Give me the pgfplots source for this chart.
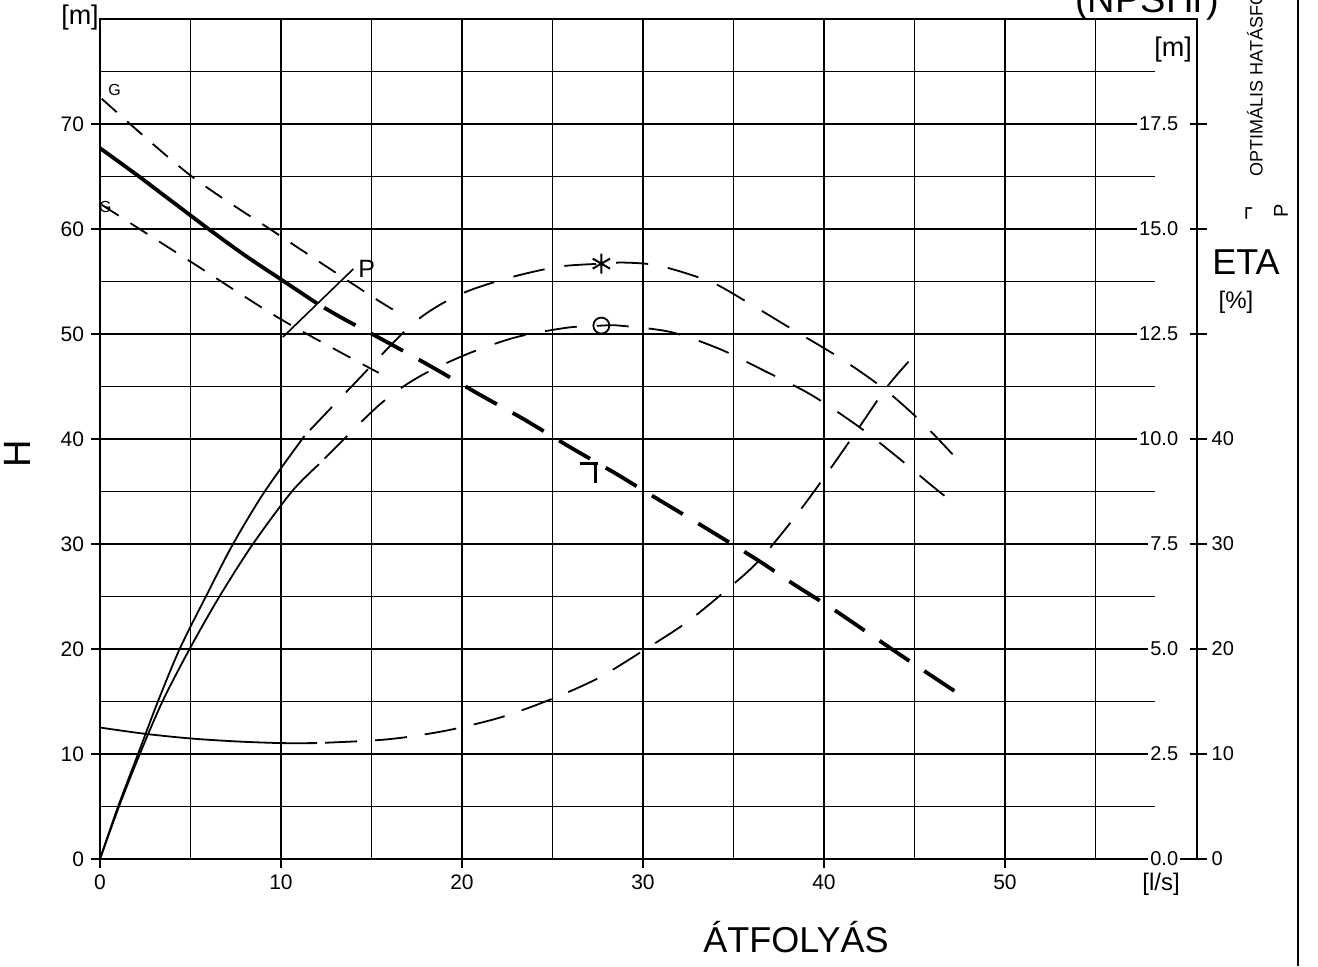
\documentclass[border=0pt]{standalone}
\usepackage{fontspec}
\setmainfont{Liberation Sans}
\usepackage{pgfplots}
\pgfplotsset{compat=1.18}

% corner mark on the H curve
\pgfdeclareplotmark{corner}{%
  \pgfpathmoveto{\pgfqpoint{-9pt}{0pt}}%
  \pgfpathlineto{\pgfqpoint{0pt}{0pt}}%
  \pgfpathmoveto{\pgfqpoint{-1.2pt}{0pt}}%
  \pgfpathlineto{\pgfqpoint{-1.2pt}{-10pt}}%
  \pgfusepathqstroke}

\newcommand{\fs}[1]{\fontsize{#1}{#1}\selectfont}

\begin{document}
\begin{tikzpicture}[
  gridl/.style={line width=0.95pt},
  rlab/.style={anchor=east, fill=white, inner sep=1pt, font=\fs{10}},
  elab/.style={anchor=west, inner sep=0pt, font=\fs{10}},
]
\begin{axis}[
  at={(50pt,53.5pt)}, anchor=south west,
  width=548.4pt, height=420pt, scale only axis,
  xmin=0, xmax=60.6, ymin=0, ymax=80,
  xtick={0,10,...,50}, ytick={0,10,...,70},
  tick pos=left, tick align=outside,
  major tick length=4.5pt,
  every tick/.style={black, line width=0.95pt},
  axis line style={line width=1.2pt},
  ticklabel style={font=\fs{10.5}},
  /pgf/number format/assume math mode=true,
  clip=false,
]
% grid
\pgfplotsinvokeforeach{5,10,...,55}{\draw[gridl] (axis cs:#1,0) -- (axis cs:#1,80);}
\pgfplotsinvokeforeach{5,10,...,75}{\draw[gridl] (axis cs:0,#1) -- (axis cs:58.3,#1);}

% right-hand scales: NPSH [m] and ETA [%]
\pgfplotsinvokeforeach{0,10,...,70}{\draw[line width=0.95pt] (axis cs:60.2,#1) -- (axis cs:61.15,#1);}
\node[rlab] at (axis cs:59.7,0) {0.0};
\node[rlab] at (axis cs:59.7,10) {2.5};
\node[rlab] at (axis cs:59.7,20) {5.0};
\node[rlab] at (axis cs:59.7,30) {7.5};
\node[rlab] at (axis cs:59.7,40) {10.0};
\node[rlab] at (axis cs:59.7,50) {12.5};
\node[rlab] at (axis cs:59.7,60) {15.0};
\node[rlab] at (axis cs:59.7,70) {17.5};
\node[elab] at (axis cs:61.4,0) {0};
\node[elab] at (axis cs:61.4,10) {10};
\node[elab] at (axis cs:61.4,20) {20};
\node[elab] at (axis cs:61.4,30) {30};
\node[elab] at (axis cs:61.4,40) {40};

% G limits
\addplot[line width=0.9pt, smooth, dash pattern=on 10pt off 7pt]
  coordinates {(0.1,72.4)(5,65.1)(10,59.3)(15,53.6)(16.8,51.7)};
\addplot[line width=0.9pt, smooth, dash pattern=on 10pt off 7pt]
  coordinates {(0.1,62.3)(5,56.9)(10,51.4)(15.4,46.3)};
\addplot[line width=0.8pt] coordinates {(10.1,49.7)(14,56.2)};

% H curve
\addplot[line width=1.9pt, smooth]
  coordinates {(0,67.7)(2,65.2)(4,62.6)(6,60)(8,57.5)(10,55.2)(12,52.9)};
\addplot[line width=1.9pt, smooth, dash pattern=on 18pt off 9pt, dash phase=23pt]
  coordinates {(12,52.9)(13.4,51.5)(16,49.1)(18.4,46.8)(20.9,44.3)(23.4,41.9)
    (25.8,39.4)(27.5,37.7)(28.7,36.5)(30.6,34.5)(33.3,31.7)(36.4,28.4)(38.3,26.2)
    (40.5,23.8)(42.8,21.1)(45.2,18.3)(47.3,15.9)};
\addplot[only marks, mark=corner, line width=1.5pt] coordinates {(27.5,37.7)};

% ETA, upper
\addplot[line width=0.9pt, smooth]
  coordinates {(0,0)(1,5)(2.1,10)(3.2,15)(4.4,20)(5.85,25)(7.35,30)(9.1,35)(11.3,40.3)};
\addplot[line width=0.9pt, smooth, dash pattern=on 16pt off 10pt, dash phase=22pt]
  coordinates {(11.3,40.3)(13.9,45)(17.3,51)(19.8,53.7)(22.5,55.3)(25.3,56.4)(27.7,56.7)
    (29,56.8)(30.9,56.5)(33.7,55.0)(35.6,53.2)(38.1,50.6)(40.9,47.7)(43.3,44.8)
    (45.4,41.6)(47.4,38.0)};
\addplot[only marks, mark=asterisk, mark size=5pt, line width=1pt] coordinates {(27.7,56.7)};

% ETA, lower
\addplot[line width=0.9pt, smooth]
  coordinates {(0,0)(1.05,5)(2.2,10)(3.45,15)(4.95,20)(6.6,25)(8.45,30)(10.6,35)(12.1,37.6)};
\addplot[line width=0.9pt, smooth, dash pattern=on 16pt off 10pt, dash phase=22pt]
  coordinates {(12.1,37.6)(15.4,43.2)(17.6,45.9)(20.3,48.1)(23,49.7)(25.8,50.6)(27.7,50.8)
    (28.7,50.8)(31.5,50.2)(34.2,48.6)(36.7,46.5)(39.3,44.2)(41.9,41.2)(43.9,38.5)
    (46,35.5)(46.8,34.4)};
\addplot[only marks, mark=o, mark size=4pt, line width=0.9pt] coordinates {(27.7,50.8)};

\node[font=\fs{8}] at (axis cs:0.8,73.2) {G};
\node[font=\fs{8}] at (axis cs:0.3,62.1) {G};
\node[font=\fs{12.5}, anchor=west, inner sep=0pt] at (axis cs:14.25,56.2) {P};
\end{axis}

% NPSHr on its own scale (0..20 m)
\begin{axis}[
  at={(50pt,53.5pt)}, anchor=south west,
  width=548.4pt, height=420pt, scale only axis,
  xmin=0, xmax=60.6, ymin=0, ymax=20,
  hide axis, clip=false,
]
\addplot[line width=0.9pt, smooth]
  coordinates {(0,3.13)(2.5,2.98)(5,2.87)(7.5,2.8)(10,2.76)(12,2.76)};
\addplot[line width=0.9pt, smooth, dash pattern=on 16pt off 9pt, dash phase=21pt]
  coordinates {(12,2.76)(15,2.82)(16.9,2.9)(19.4,3.08)(22.2,3.38)(24.9,3.8)(27.5,4.3)
    (29.9,4.93)(32.4,5.63)(34.6,6.4)(36.4,7.1)(38.5,8.2)(40.2,9.2)(41.9,10.25)
    (43.5,11.25)(45,12.0)};
\end{axis}

% labels around the chart
\node[font=\fs{13.5}] at (40pt,474pt) {[m]};
\node[font=\fs{13.5}] at (586.5pt,458pt) {[m]};
\node[font=\fs{19}, rotate=90] at (8.5pt,256pt) {H};
\node[font=\fs{18}, anchor=base] at (398pt,7pt) {ÁTFOLYÁS};
\node[font=\fs{12}] at (580.5pt,41pt) {[l/s]};
\node[font=\fs{18}] at (623pt,352pt) {ETA};
\node[font=\fs{12}] at (618pt,332pt) {[\%]};
\node[font=\fs{19}, anchor=base] at (573.5pt,476.5pt) {(NPSHr)};
\node[font=\fs{9}, rotate=90, anchor=west, inner sep=0pt] at (627.5pt,394.5pt) {OPTIMÁLIS HATÁSFOK};
\node[font=\fs{12}, rotate=90] at (625pt,376.5pt) {¬};
\node[font=\fs{10}, rotate=90] at (640.5pt,377.5pt) {P};
\draw[line width=1.3pt] (649pt,0pt) -- (649pt,483pt);

\pgfresetboundingbox
\path[use as bounding box] (0pt,0pt) rectangle (659pt,483pt);
\end{tikzpicture}
\end{document}
